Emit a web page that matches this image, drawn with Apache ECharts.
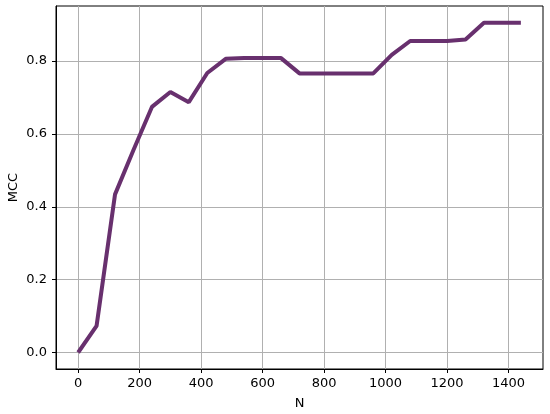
<!DOCTYPE html>
<html>
<head>
<meta charset="utf-8">
<script src="https://cdn.jsdelivr.net/npm/echarts@6/dist/echarts.min.js"></script>
<style>
  html, body { margin: 0; padding: 0; background: #fff; }
  #chart { width: 550px; height: 414px; }
</style>
</head>
<body>
<div id="chart"></div>
<script>
// sample sizes and their MCC scores
const nValues = [0, 60, 120, 180, 240, 300, 360, 420, 480, 540, 600, 660, 720,
  780, 840, 900, 960, 1020, 1080, 1140, 1200, 1260, 1320, 1380, 1440];
const mccValues = [0.0, 0.073, 0.434, 0.556, 0.674, 0.715, 0.687, 0.767, 0.806, 0.808,
  0.808, 0.808, 0.766, 0.766, 0.766, 0.766, 0.766, 0.817, 0.855, 0.855,
  0.855, 0.859, 0.905, 0.905, 0.905];
const xTicks = [0, 200, 400, 600, 800, 1000, 1200, 1400];
const yTicks = [0, 0.2, 0.4, 0.6, 0.8];

const font = 'DejaVu Sans';
const chart = echarts.init(document.getElementById('chart'));

chart.setOption({
  animation: false,
  grid: {
    left: 56, right: 7, top: 6, bottom: 45,
    outerBoundsMode: 'none',
    show: true, borderColor: '#000', borderWidth: 1,
  },
  xAxis: {
    type: 'value',
    min: -72,
    max: 1512,
    name: 'N',
    nameLocation: 'middle',
    nameGap: 28,
    nameTextStyle: { color: '#000', fontFamily: font, fontSize: 13 },
    axisLine: { show: true, onZero: false, lineStyle: { color: '#000' } },
    axisTick: { show: true, length: 4, customValues: xTicks, lineStyle: { color: '#000' } },
    axisLabel: {
      customValues: xTicks, color: '#000', fontFamily: font, fontSize: 13, margin: 8,
      formatter: (v) => String(v),
    },
    splitLine: { show: true, lineStyle: { color: '#b0b0b0', width: 1 } },
  },
  yAxis: {
    type: 'value',
    min: -0.0453,
    max: 0.951,
    name: 'MCC',
    nameLocation: 'middle',
    nameGap: 36,
    nameMoveOverlap: false,
    nameTextStyle: { color: '#000', fontFamily: font, fontSize: 13 },
    axisLine: { show: true, onZero: false, lineStyle: { color: '#000' } },
    axisTick: { show: true, length: 4, customValues: yTicks, lineStyle: { color: '#000' } },
    axisLabel: {
      customValues: yTicks, color: '#000', fontFamily: font, fontSize: 13, margin: 9,
      formatter: (v) => v.toFixed(1),
    },
    splitLine: { show: true, lineStyle: { color: '#b0b0b0', width: 1 } },
  },
  series: [{
    type: 'line',
    data: nValues.map((n, i) => [n, mccValues[i]]),
    showSymbol: false,
    lineStyle: { color: '#68306e', width: 4 },
  }],
});
</script>
</body>
</html>
